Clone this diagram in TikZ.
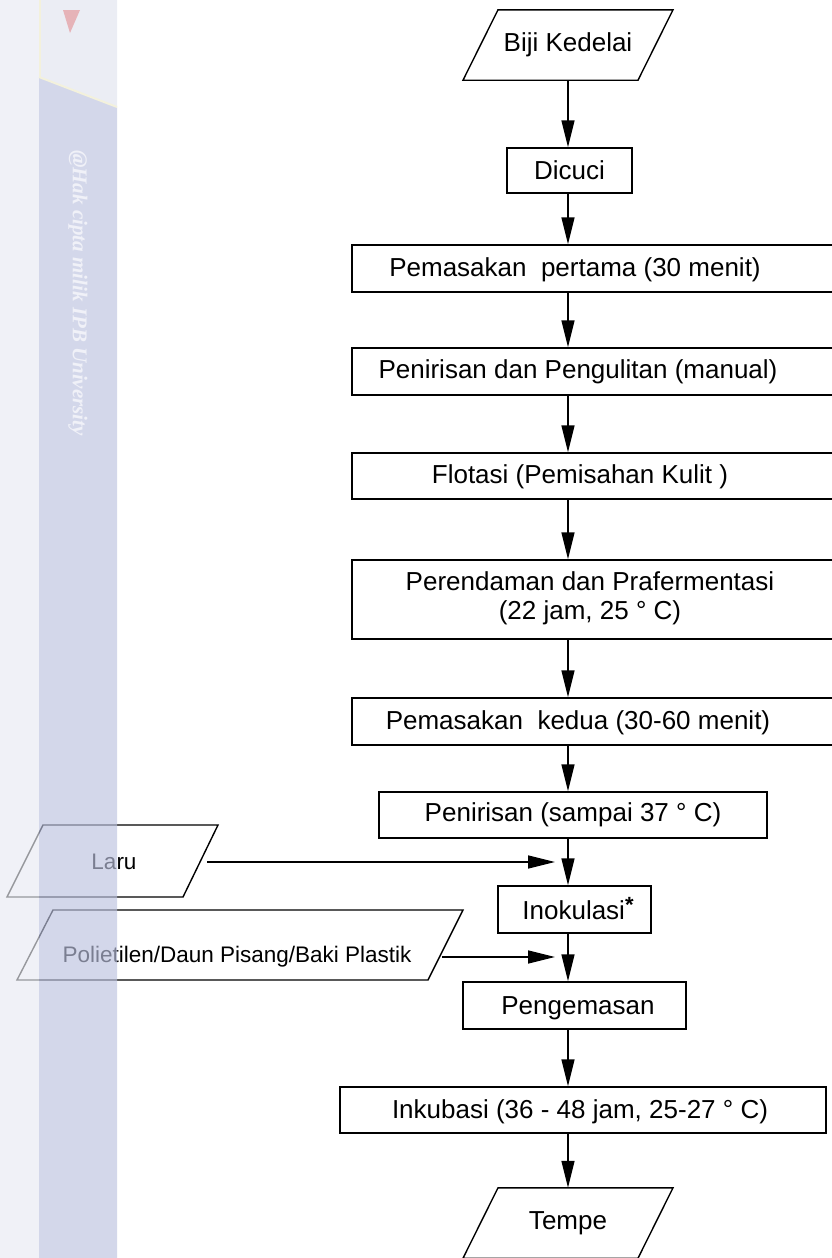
\documentclass[tikz,border=0pt]{standalone}
\usepackage{fontspec}
\setmainfont{Liberation Sans}
\newfontfamily\wmfont{Liberation Serif}
\usetikzlibrary{arrows.meta}
\definecolor{wmstrip}{HTML}{E8EAF2}
\definecolor{wmband}{HTML}{BCC2DF}
\definecolor{wmtop}{HTML}{E0E3EE}
\definecolor{wmpink}{HTML}{E6B3B8}
\definecolor{wmyellow}{HTML}{F3F1DC}
\definecolor{wmtext}{HTML}{F0F1F8}
\begin{document}
\begin{tikzpicture}[x=1pt,y=-1pt,
  line/.style={line width=1.4pt,line join=miter},
  arr/.style={line width=1.4pt,-{Triangle[length=27pt,width=13pt]}},
  box/.style={draw,line width=1.4pt,inner sep=0pt},
  lbl/.style={inner sep=0pt,font=\fontsize{26}{31}\selectfont,align=center},
  side/.style={inner sep=0pt,font=\fontsize{22.5}{27}\selectfont},
  veil/.style={fill opacity=0.65}]
\useasboundingbox (0,0) rectangle (832,1258);
\clip (0,0) rectangle (832,1258);
\coordinate (spine) at (568,0);
% Biji Kedelai
\node[lbl,minimum height=70pt,minimum width=140pt] (biji) at (568,45) {Biji Kedelai};
\draw[line] ([xshift=-105pt]biji.south) -- ([xshift=-70pt]biji.north) -- ([xshift=105pt]biji.north) -- ([xshift=70pt]biji.south) -- cycle;
% boxes
\node[box,minimum width=125pt,minimum height=45pt] (b2) at (569.5,170.5) {};
\node[lbl] (t2) at (569.5,170) {Dicuci};
\node[box,minimum width=498pt,minimum height=47pt] (b3) at (601,268.5) {};
\node[lbl] (t3) at (575,270) {Pemasakan~ pertama (30 menit)};
\node[box,minimum width=498pt,minimum height=47pt] (b4) at (601,371.5) {};
\node[lbl] (t4) at (578,372) {Penirisan dan Pengulitan (manual)};
\node[box,minimum width=498pt,minimum height=46pt] (b5) at (601,476) {};
\node[lbl] (t5) at (580,477) {Flotasi (Pemisahan Kulit )};
\node[box,minimum width=498pt,minimum height=79pt] (b6) at (601,599.5) {};
\node[lbl] (t6a) at (590,581) {Perendaman dan Prafermentasi};
\node[lbl] (t6b) at (590,613) {(22 jam, 25 ° C)};
\node[box,minimum width=498pt,minimum height=47pt] (b7) at (601,721.5) {};
\node[lbl] (t7) at (578,723) {Pemasakan~ kedua (30-60 menit)};
\node[box,minimum width=388pt,minimum height=46pt] (b8) at (573,815) {};
\node[lbl] (t8) at (573,815) {Penirisan (sampai 37 ° C)};
\node[box,minimum width=153pt,minimum height=47pt] (b9) at (574.5,909.5) {};
\node[lbl] (t9) at (578,909) {Inokulasi\raisebox{7pt}{\fontsize{22}{22}\selectfont\bfseries *}};
\node[box,minimum width=223pt,minimum height=47pt] (b10) at (574.5,1005.5) {};
\node[lbl] (t10) at (578,1008) {Pengemasan};
\node[box,minimum width=486pt,minimum height=46pt] (b11) at (583,1110) {};
\node[lbl] (t11) at (580,1112) {Inkubasi (36 - 48 jam, 25-27 ° C)};
% Tempe
\node[lbl,minimum height=70pt,minimum width=140pt] (tempe) at (568,1223) {Tempe};
\draw[line] ([xshift=-105pt]tempe.south) -- ([xshift=-70pt]tempe.north) -- ([xshift=105pt]tempe.north) -- ([xshift=70pt]tempe.south) -- cycle;
% side inputs
\draw[line] (7,897) -- (43,825) -- (218,825) -- (183,897) -- cycle;
\node[side,minimum width=186pt,minimum height=20pt] (laru) at (114,862) {Laru};
\draw[line] (17,980) -- (53,910) -- (463,910) -- (428,980) -- cycle;
\node[side,minimum width=410pt,minimum height=20pt] (poli) at (237,957) {Polietilen/Daun Pisang/Baki Plastik};
\coordinate (j1) at (555,862);
\coordinate (j2) at (555,957);
% connectors
\draw[arr] (biji.south) -- (b2.north -| spine);
\draw[arr] (b2.south -| spine) -- (b3.north -| spine);
\draw[arr] (b3.south -| spine) -- (b4.north -| spine);
\draw[arr] (b4.south -| spine) -- (b5.north -| spine);
\draw[arr] (b5.south -| spine) -- (b6.north -| spine);
\draw[arr] (b6.south -| spine) -- (b7.north -| spine);
\draw[arr] (b7.south -| spine) -- (b8.north -| spine);
\draw[arr] (b8.south -| spine) -- (b9.north -| spine);
\draw[arr] (b9.south -| spine) -- (b10.north -| spine);
\draw[arr] (b10.south -| spine) -- (b11.north -| spine);
\draw[arr] (b11.south -| spine) -- (tempe.north);
\draw[arr] (laru.east) -- (j1);
\draw[arr] (poli.east) -- (j2);
% watermark veil on top
\fill[wmstrip,veil] (0,0) rectangle (39,1258);
\fill[wmtop,veil] (39,0) -- (117,0) -- (117,107) -- (39,77) -- cycle;
\fill[wmband,veil] (39,77) -- (117,107) -- (117,1258) -- (39,1258) -- cycle;
\draw[wmyellow,line width=2pt] (39,77) -- (117,107);
\draw[wmyellow,line width=1.5pt] (40,0) -- (40,77);
\fill[wmpink] (63,10) -- (80,10) -- (70,33) -- cycle;
\node[rotate=-90,text=wmtext,font=\wmfont\bfseries\itshape\fontsize{21}{24}\selectfont,inner sep=0pt] (wm) at (78,293) {@Hak cipta milik IPB University};
\end{tikzpicture}
\end{document}
